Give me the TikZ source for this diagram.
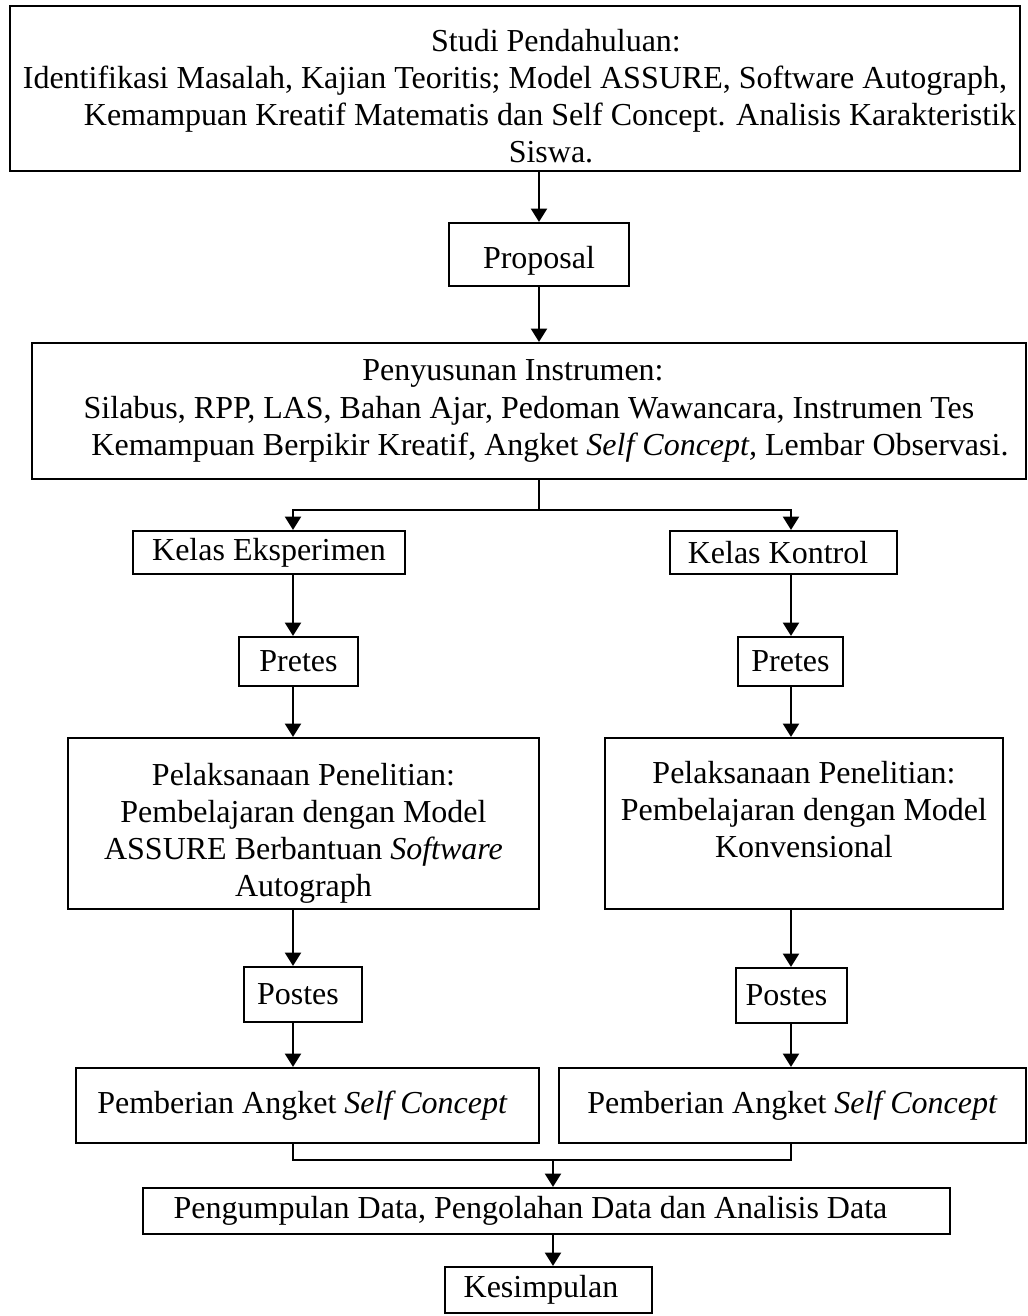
\documentclass[tikz,border=0pt]{standalone}
\usepackage{fontspec}
\setmainfont{Liberation Serif}
\usetikzlibrary{arrows.meta}

\newlength{\pxlen}
\setlength{\pxlen}{0.375pt}
\newcommand{\trail}[1]{\hspace*{#1\pxlen}}
\newcommand{\topgap}[1]{\rule{0pt}{#1}}

\tikzset{
  box/.style={draw, line width=0.8pt, inner sep=0pt, align=center,
    font=\fontsize{12}{13.9}\selectfont},
  boxsize/.style 2 args={minimum width=#1*\pxlen, minimum height=#2*\pxlen},
  arr/.style={line width=0.8pt, -{Triangle[length=5pt,width=6pt]}},
  link/.style={line width=0.8pt}
}

\begin{document}
\begin{tikzpicture}[x=0.375pt, y=-0.375pt]
  \useasboundingbox (0,0) rectangle (1028,1316);
  % x positions of the arrow columns
  \coordinate (colL) at (293,0);
  \coordinate (colM) at (539,0);
  \coordinate (colR) at (791,0);
  \coordinate (colB) at (553,0);

  % top part
  \node[box, boxsize={1010}{165}] (studi) at (515,88.5)
    {\topgap{14pt}\trail{82}Studi Pendahuluan:\\
     Identifikasi Masalah, Kajian Teoritis; Model ASSURE, Software Autograph,\\
     \trail{70}Kemampuan Kreatif Matematis dan Self Concept. Analisis Karakteristik\\
     \trail{72}Siswa.};
  \node[box, boxsize={180}{63}] (proposal) at (539,254.5) {\topgap{13pt}Proposal};
  \node[box, boxsize={994}{136}] (instr) at (529,411)
    {Penyusunan Instrumen:\trail{32}\\
     Silabus, RPP, LAS, Bahan Ajar, Pedoman Wawancara, Instrumen Tes\trail{31}\\
     \trail{42}Kemampuan Berpikir Kreatif, Angket \textit{Self Concept,} Lembar Observasi.};

  % left column (eksperimen)
  \node[box, boxsize={272}{43}] (kelasE) at (269,552.5) {Kelas Eksperimen};
  \node[box, boxsize={119}{49}] (pretesE) at (298.5,661.5) {Pretes};
  \node[box, boxsize={471}{171}] (pelakE) at (303.5,823.5)
    {\topgap{16pt}Pelaksanaan Penelitian:\\ Pembelajaran dengan Model\\
     ASSURE Berbantuan \textit{Software}\\ Autograph};
  \node[box, boxsize={118}{55}] (postesE) at (303,994.5) {Postes\trail{10}};
  \node[box, boxsize={463}{75}] (angketE) at (307.5,1105.5)
    {Pemberian Angket \textit{Self Concept}\trail{10}};

  % right column (kontrol)
  \node[box, boxsize={227}{43}] (kelasK) at (783.5,552.5) {Kelas Kontrol\trail{11}};
  \node[box, boxsize={105}{49}] (pretesK) at (790.5,661.5) {Pretes};
  \node[box, boxsize={398}{171}] (pelakK) at (804,823.5)
    {\topgap{16pt}Pelaksanaan Penelitian:\\ Pembelajaran dengan Model\\ Konvensional\\ \strut};
  \node[box, boxsize={111}{55}] (postesK) at (791.5,995.5) {Postes\trail{10}};
  \node[box, boxsize={467}{75}] (angketK) at (792.5,1105.5)
    {Pemberian Angket \textit{Self Concept}};

  % bottom part
  \node[box, boxsize={807}{46}] (analisis) at (546.5,1211)
    {Pengumpulan Data, Pengolahan Data dan Analisis Data\trail{32}};
  \node[box, boxsize={207}{46}] (kesimpulan) at (548.5,1290) {Kesimpulan\trail{15}};

  % connectors
  \draw[arr] (studi.south -| colM) -- (proposal.north);
  \draw[arr] (proposal.south) -- (instr.north -| colM);
  \draw[link] (instr.south -| colM) -- ++(0,30) coordinate (split);
  \draw[arr] (split) -| (kelasE.north -| colL);
  \draw[arr] (split) -| (kelasK.north -| colR);

  \draw[arr] (kelasE.south -| colL) -- (pretesE.north -| colL);
  \draw[arr] (pretesE.south -| colL) -- (pelakE.north -| colL);
  \draw[arr] (pelakE.south -| colL) -- (postesE.north -| colL);
  \draw[arr] (postesE.south -| colL) -- (angketE.north -| colL);

  \draw[arr] (kelasK.south -| colR) -- (pretesK.north -| colR);
  \draw[arr] (pretesK.south -| colR) -- (pelakK.north -| colR);
  \draw[arr] (pelakK.south -| colR) -- (postesK.north -| colR);
  \draw[arr] (postesK.south -| colR) -- (angketK.north -| colR);

  \draw[link] (angketE.south -| colL) -- ++(0,16) coordinate (join)
    -| (angketK.south -| colR);
  \draw[arr] (join -| colB) -- (analisis.north -| colB);
  \draw[arr] (analisis.south -| colB) -- (kesimpulan.north -| colB);
\end{tikzpicture}
\end{document}
